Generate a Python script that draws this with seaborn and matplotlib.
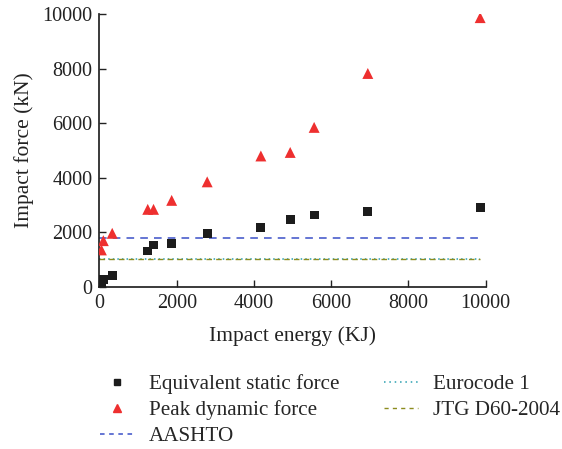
import matplotlib
matplotlib.use("Agg")
import matplotlib.pyplot as plt
from matplotlib.lines import Line2D
import seaborn as sns
import pandas as pd

# Impact energy (KJ) for each simulated case
energy = [50, 100, 330, 1250, 1400, 1870, 2790, 4180, 4940, 5560, 6950, 9860]
# Equivalent static force (kN)
static_force = [150, 260, 400, 1310, 1530, 1600, 1940, 2160, 2460, 2630, 2760, 2900]
# Peak dynamic force (kN)
peak_force = [1350, 1690, 1960, 2840, 2840, 3170, 3850, 4800, 4930, 5850, 7830, 9880]

# Design code limits (kN), drawn across the energy range
code_x = [0, 9860]
aashto_level = 1780
eurocode_level = 1000
jtg_level = 1000

sns.set_theme(style="ticks")
plt.rcParams["font.family"] = ["Liberation Serif", "DejaVu Serif"]

pts = pd.DataFrame({
    "energy": energy * 2,
    "force": static_force + peak_force,
    "series": ["Equivalent static force"] * len(energy) + ["Peak dynamic force"] * len(energy),
})

fig = plt.figure(figsize=(5.62, 4.49), dpi=100)
ax = fig.add_axes([0.177, 0.3615, 0.687, 0.6065])

sns.scatterplot(data=pts, x="energy", y="force", hue="series", style="series", size="series",
                markers={"Equivalent static force": "s", "Peak dynamic force": "^"},
                palette={"Equivalent static force": "#1c1c1c", "Peak dynamic force": "#ee2f2f"},
                sizes={"Equivalent static force": 40, "Peak dynamic force": 62},
                linewidth=0, ax=ax, legend=False, zorder=3)

aashto_style = dict(color="#3a50c8", linestyle=(0, (5, 4)), lw=1.1)
euro_style = dict(color="#2a9fb0", linestyle=(0, (1, 2)), lw=1.1)
jtg_style = dict(color="#8c8c1e", linestyle=(0, (4, 3)), lw=1.0)

sns.lineplot(x=code_x, y=[aashto_level] * 2, ax=ax, **aashto_style)
sns.lineplot(x=code_x, y=[eurocode_level] * 2, ax=ax, **euro_style)
sns.lineplot(x=code_x, y=[jtg_level] * 2, ax=ax, **jtg_style)

ax.set_xlim(0, 10000)
ax.set_ylim(0, 10000)
ax.set_xticks([0, 2000, 4000, 6000, 8000, 10000])
ax.set_yticks([0, 2000, 4000, 6000, 8000, 10000])
ax.tick_params(direction="in", length=5, width=1, labelsize=14.5, colors="#222222", pad=5)
for side in ("top", "right"):
    ax.spines[side].set_visible(False)
for side in ("left", "bottom"):
    ax.spines[side].set_color("#222222")
ax.set_xlabel("Impact energy (KJ)", fontsize=15.5, labelpad=10, color="#222222")
ax.set_ylabel("Impact force (kN)", fontsize=15.5, labelpad=6, color="#222222")

handles = [
    Line2D([], [], marker="s", color="#1c1c1c", linestyle="none", markersize=5),
    Line2D([], [], marker="^", color="#ee2f2f", linestyle="none", markersize=6),
    Line2D([], [], **{**aashto_style, "linestyle": (0, (3, 3))}),
    Line2D([], [], **{**euro_style, "linestyle": (0, (1, 2.5))}),
    Line2D([], [], **{**jtg_style, "linestyle": (0, (3, 3))}),
]
labels = ["Equivalent static force", "Peak dynamic force", "AASHTO",
          "Eurocode 1", "JTG D60-2004"]
fig.legend(handles, labels, ncol=2, frameon=False, fontsize=15.2,
           loc="upper left", bbox_to_anchor=(0.178, 0.167),
           handlelength=1.6, handletextpad=0.72, columnspacing=2.1,
           labelspacing=0.3, borderaxespad=0, borderpad=0)

fig.savefig("out.png", dpi=100)
